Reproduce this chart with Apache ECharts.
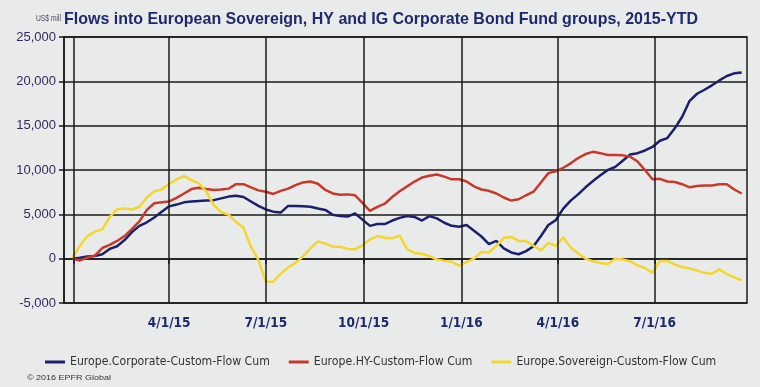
<!DOCTYPE html>
<html>
<head>
<meta charset="utf-8">
<script src="https://cdn.jsdelivr.net/npm/echarts@6/dist/echarts.min.js"></script>
<style>
html,body{margin:0;padding:0;background:#e9eaea;}
#c{width:760px;height:387px;}
</style>
</head>
<body>
<div id="c"></div>
<script>
// Weekly observations starting 2014-12-31
var startDate = [2014, 11, 31];
var seriesNames = ['Europe.Corporate-Custom-Flow Cum', 'Europe.HY-Custom-Flow Cum', 'Europe.Sovereign-Custom-Flow Cum'];
var corporate = [0,100,250,300,500,1100,1400,2100,3000,3700,4100,4650,5300,5900,6100,6350,6450,6500,6550,6600,
  6800,7000,7100,6950,6450,5950,5550,5300,5200,5950,5950,5900,5850,5650,5500,4950,4800,4750,5100,4400,
  3700,3900,3900,4300,4600,4800,4700,4300,4800,4550,4050,3700,3600,3800,3150,2500,1650,2000,1150,700,
  500,850,1400,2550,3800,4350,5650,6550,7250,8050,8750,9400,10000,10350,11050,11750,11900,12200,12600,13300,
  13600,14700,16000,17800,18600,19050,19550,20100,20600,20900,21000];
var highYield = [0,-200,100,350,1200,1550,2000,2550,3350,4200,5500,6250,6350,6450,6850,7350,7850,8000,7850,7750,
  7800,7900,8400,8400,8050,7700,7550,7300,7650,7900,8300,8600,8700,8450,7750,7350,7200,7250,7150,6300,
  5400,5850,6200,6950,7600,8150,8700,9150,9350,9500,9250,8950,8950,8700,8150,7800,7650,7350,6900,6550,
  6700,7150,7550,8600,9650,9850,10250,10750,11350,11800,12050,11900,11700,11700,11650,11500,10950,10000,8950,9000,
  8700,8650,8400,8050,8200,8250,8250,8400,8400,7800,7350];
var sovereign = [100,1450,2550,3050,3300,4700,5550,5650,5550,5850,6900,7600,7800,8450,8950,9300,8850,8500,7550,6050,
  5250,4950,4150,3450,1350,-150,-2600,-2600,-1700,-1000,-450,250,1150,1950,1700,1350,1350,1100,1050,1500,
  2150,2550,2350,2300,2600,1050,650,550,300,-100,-250,-350,-800,-400,0,750,700,1450,2350,2450,
  2000,2000,1450,950,1750,1450,2400,1250,600,0,-300,-500,-600,0,-100,-300,-750,-1050,-1600,-250,
  -250,-650,-950,-1100,-1350,-1600,-1700,-1200,-1750,-2100,-2450];
var gridDates = ['2015-01-01','2015-04-01','2015-07-01','2015-10-01','2016-01-01','2016-04-01','2016-07-01'];
var tickLabelDates = ['2015-04-01','2015-07-01','2015-10-01','2016-01-01','2016-04-01','2016-07-01'];
var tickLabels = ['4/1/15','7/1/15','10/1/15','1/1/16','4/1/16','7/1/16'];
var xMinDate = '2014-12-23';
var xMaxDate = '2016-09-26';
var yMin = -5000, yMax = 25000, yStep = 5000;
var titleText = 'Flows into European Sovereign, HY and IG Corporate Bond Fund groups, 2015-YTD';
var unitText = 'US$ mill';
var creditText = '\u00a9 2016 EPFR Global';

function ts(s){ var p = s.split('-'); return Date.UTC(+p[0], +p[1]-1, +p[2]); }
function weekly(vals){
  return vals.map(function(v,i){
    return [Date.UTC(startDate[0], startDate[1], startDate[2] + 7*i), v];
  });
}
var gridTs = gridDates.map(ts);
var labelTs = tickLabelDates.map(ts);

var mctx = document.createElement('canvas').getContext('2d');
function measure(font, text){ mctx.font = font; return mctx.measureText(text).width; }

var colors = ['#1c1f6b', '#c9392b', '#f3d62e'];
var cond = '"DejaVu Sans Condensed", "Liberation Sans", sans-serif';
var titleFont = 'bold 17px "Liberation Sans", Arial, sans-serif';
var titleScale = 634 / measure(titleFont, titleText);
var legendSize = 14 * 200 / measure('14px "DejaVu Sans Condensed"', seriesNames[0]);
var unitFont = '9px "Liberation Sans", Arial, sans-serif';
var unitScale = 25 / measure(unitFont, unitText);
var creditFont = '8px "Liberation Sans", Arial, sans-serif';
var creditScale = 84 / measure(creditFont, creditText);

var chart = echarts.init(document.getElementById('c'), null, {renderer:'canvas'});
chart.setOption({
  backgroundColor: '#e9eaea',
  animation: false,
  color: colors,
  graphic: [{
    type: 'text', x: 64, y: 19, scaleX: titleScale, silent: true,
    style: {text: titleText, font: titleFont, fill: '#1d2a6e', textAlign: 'left', textVerticalAlign: 'middle', align: 'left', verticalAlign: 'middle'}
  },{
    type: 'text', x: 36, y: 19, scaleX: unitScale, silent: true,
    style: {text: unitText, font: unitFont, fill: '#4a4a60', textAlign: 'left', textVerticalAlign: 'middle', align: 'left', verticalAlign: 'middle'}
  },{
    type: 'text', x: 27, y: 378, scaleX: creditScale, silent: true,
    style: {text: creditText, font: creditFont, fill: '#333333', textAlign: 'left', textVerticalAlign: 'middle', align: 'left', verticalAlign: 'middle'}
  }],
  legend: {
    left: 40, top: 351,
    itemWidth: 20, itemHeight: 3, itemGap: 19,
    icon: 'rect',
    textStyle: {fontFamily: cond, fontSize: legendSize, color: '#333333'},
    data: seriesNames
  },
  grid: {left: 64, right: 13, top: 37, bottom: 84, show: true, borderColor: '#1a1a1a', borderWidth: 1.5, backgroundColor: 'transparent'},
  xAxis: {
    type: 'value',
    min: ts(xMinDate), max: ts(xMaxDate),
    splitLine: {show: false},
    axisLine: {lineStyle: {color: '#1a1a1a', width: 1.5}},
    axisTick: {show: true, customValues: gridTs, length: 5, lineStyle: {color: '#1a1a1a', width: 1.5}},
    axisLabel: {
      customValues: labelTs,
      margin: 13,
      fontFamily: cond, fontWeight: 'bold', fontSize: 13.5, color: '#1d2a6e',
      formatter: function(v){ var i = labelTs.indexOf(v); return i >= 0 ? tickLabels[i] : ''; }
    }
  },
  yAxis: {
    type: 'value',
    min: yMin, max: yMax, interval: yStep,
    axisLine: {show: true, lineStyle: {color: '#1a1a1a', width: 1.5}},
    axisTick: {show: true, length: 5, lineStyle: {color: '#1a1a1a', width: 1.5}},
    splitLine: {show: true, lineStyle: {color: '#1a1a1a', width: 1.5}},
    axisLabel: {
      margin: 8,
      fontFamily: '"Liberation Sans", Arial, sans-serif', fontSize: 13, color: '#2e2e5e',
      formatter: function(v){ return v.toLocaleString('en-US'); }
    }
  },
  series: [{
    name: seriesNames[0], type: 'line', data: weekly(corporate), showSymbol: false,
    lineStyle: {width: 2.5}, z: 3,
    markLine: {
      silent: true, symbol: 'none', label: {show: false},
      lineStyle: {color: '#1a1a1a', width: 1.5, type: 'solid'},
      data: gridTs.map(function(t){ return {xAxis: t}; })
    }
  },{
    name: seriesNames[1], type: 'line', data: weekly(highYield), showSymbol: false,
    lineStyle: {width: 2.5}, z: 3
  },{
    name: seriesNames[2], type: 'line', data: weekly(sovereign), showSymbol: false,
    lineStyle: {width: 2.5}, z: 3
  }]
});
</script>
</body>
</html>
